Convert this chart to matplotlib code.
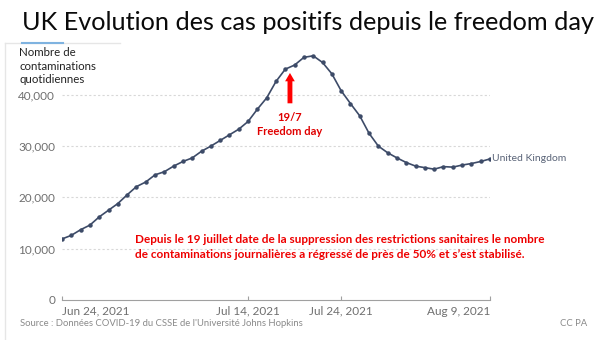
import matplotlib
matplotlib.use("Agg")
import matplotlib.pyplot as plt
from matplotlib.lines import Line2D
import pandas as pd

# daily confirmed cases (7-day average), UK
start_date = "2021-06-24"
cases = [11900, 12600, 13700, 14600, 16200, 17500, 18800, 20500, 22100, 23000,
         24400, 25000, 26100, 27000, 27700, 29000, 30000, 31100, 32200, 33300,
         34800, 37200, 39400, 42600, 45000, 45800, 47300, 47600, 46300, 44100,
         40800, 38300, 35900, 32500, 30000, 28700, 27700, 26800, 26100, 25800,
         25500, 26000, 25900, 26300, 26600, 27000, 27500]
y_ticks = [0, 10000, 20000, 30000, 40000]
x_ticks = ["2021-06-24", "2021-07-14", "2021-07-24", "2021-08-09"]
freedom_day = "2021-07-18 12:00"

title = "UK Evolution des cas positifs depuis le freedom day"
ylabel = "Nombre de\ncontaminations\nquotidiennes"
note = ("Depuis le 19 juillet date de la suppression des restrictions sanitaires le nombre\n"
        "de contaminations journalières a régressé de près de 50% et s\u2019est stabilisé.")
source = "Source : Données COVID-19 du CSSE de l'Université Johns Hopkins"

dates = pd.date_range(start_date, periods=len(cases), freq="D")

W, H = 605, 340
fig = plt.figure(figsize=(W / 100, H / 100), dpi=100)
ax = fig.add_axes([62 / W, 40 / H, 428 / W, 256.5 / H])

line_col = "#3d4b68"
grey = "#6f6f6f"

ax.plot(dates, cases, color=line_col, lw=1.2, marker="o", markersize=2.2, zorder=3)
ax.set_xlim(dates[0], dates[-1])
ax.set_ylim(0, 50000)

for v in y_ticks[1:]:
    ax.axhline(v, color="#d8d8d8", lw=0.8, ls=(0, (2, 2)), zorder=1)

for s in ["top", "right", "left"]:
    ax.spines[s].set_visible(False)
ax.spines["bottom"].set_color("#a0a0a0")
ax.spines["bottom"].set_linewidth(0.8)
ax.spines["bottom"].set_clip_on(False)

ax.set_yticks(y_ticks)
ax.set_yticklabels(["{:,}".format(v) for v in y_ticks])
ax.tick_params(axis="y", length=0, pad=5, labelsize=8.5, labelcolor=grey)
for lab in ax.get_yticklabels():
    lab.set_family("Lato")

xt = pd.to_datetime(x_ticks)
ax.set_xticks(xt)
ax.set_xticklabels([d.strftime("%b %-d, %Y") for d in xt])
ax.tick_params(axis="x", direction="in", length=3, color="#a0a0a0", pad=4,
               labelsize=8.5, labelcolor=grey)
xl = ax.get_xticklabels()
for lab in xl:
    lab.set_family("Lato")
xl[0].set_horizontalalignment("left")
xl[-1].set_horizontalalignment("right")

ax.text(dates[-1] + pd.Timedelta(hours=6), cases[-1], "United Kingdom", color="#5a6478",
        fontsize=7.5, family="Lato", va="center", ha="left")

# freedom day arrow
fd = pd.Timestamp(freedom_day)
ax.annotate("", xy=(fd, 44800), xytext=(fd, 37800),
            arrowprops=dict(arrowstyle="simple,head_width=0.7,head_length=0.6,tail_width=0.35",
                            color="#ff0000", lw=0))
ax.text(fd, 34200, "19/7\nFreedom day", color="#e00000", fontsize=8, fontweight="bold",
        family="Lato", ha="center", va="center", linespacing=1.3)

ax.text(dates[0] + pd.Timedelta(days=7.8), 10400, note, color="#ee0000", fontsize=8.5,
        fontweight="bold", family="Lato", ha="left", va="center", linespacing=1.45)

# header and decorations
fig.text(22 / W, 1 - 30 / H, title, fontsize=18.2, family="Lato",
         color="#0a0a0a", ha="left", va="baseline")
fig.text(19 / W, 1 - 66 / H, ylabel, fontsize=8.3, family="Lato", color="#222222",
         ha="left", va="center", linespacing=1.3)
fig.text(20 / W, 1 - 324 / H, source, fontsize=6.8, family="Lato", color="#8a8a8a",
         ha="left", va="center")
fig.text(560 / W, 1 - 324 / H, "CC PA", fontsize=6.8, family="Lato", color="#8a8a8a",
         ha="left", va="center")

fig.add_artist(Line2D([5 / W, 5 / W], [0, 1 - 43 / H], color="#e6e6e6", lw=1))
fig.add_artist(Line2D([5 / W, 120 / W], [1 - 43 / H, 1 - 43 / H], color="#e6e6e6", lw=1))
fig.add_artist(Line2D([22 / W, 63 / W], [1 - 43 / H, 1 - 43 / H], color="#7fb3e0", lw=1.5))

fig.savefig("out.png", dpi=100)
